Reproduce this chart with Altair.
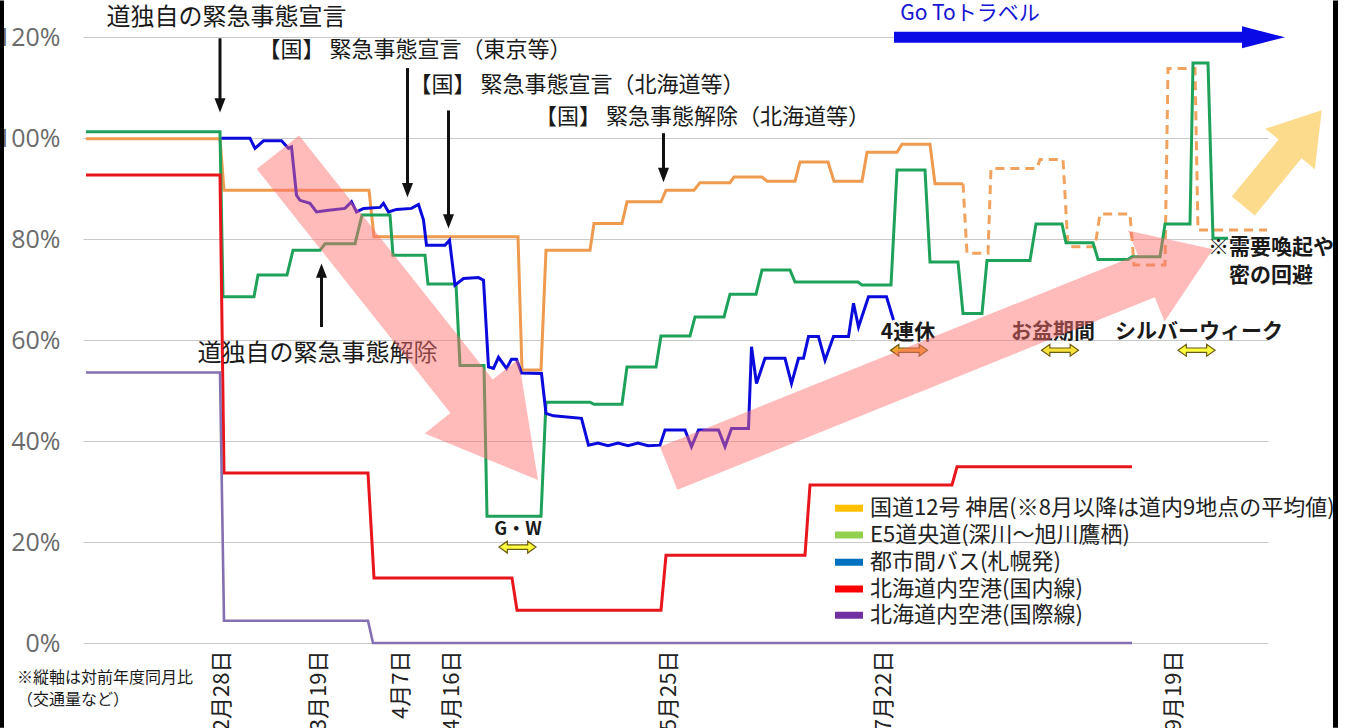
import altair as alt
import pandas as pd

FONT = "Noto Sans CJK JP"

# ---------------- axis ticks ----------------
tick_pos = [27.6, 47.1, 63.4, 73.6, 117.0, 160.1, 218.1]
tick_labels = ["2月28日", "3月19日", "4月7日", "4月16日", "5月25日", "7月22日", "9月19日"]
y_ticks = [0, 20, 40, 60, 80, 100, 120]

# ---------------- series (x = position on category axis, y = % of previous year) ----------------
orange_x = [0.6, 27.4, 28.2, 57.2, 58.2, 87.0, 87.8, 91.6, 92.6, 101.4, 102.2, 107.8, 108.8, 115.6,
            116.6, 122.2, 123.4, 129.4, 130.2, 135.8, 136.8, 142.4, 143.4, 149.0, 150.2, 155.8,
            156.8, 162.8, 163.8, 169.4, 170.4, 176.0]
orange_y = [99.9, 99.9, 89.7, 89.7, 80.5, 80.5, 54.1, 54.1, 77.8, 77.8, 83.1, 83.1, 87.4, 87.4,
            89.7, 89.7, 91.2, 91.2, 92.3, 92.3, 91.5, 91.5, 95.3, 95.3, 91.5, 91.5,
            97.2, 97.2, 98.8, 98.8, 91.0, 91.0]

orange_dash_x = [176.0, 176.8, 181.0, 181.6, 190.8, 191.4, 196.0, 197.0, 202.4, 203.4, 209.4,
                 210.2, 216.4, 217.0, 222.4, 223.0, 236.8]
orange_dash_y = [91.0, 77.2, 77.2, 94.0, 94.0, 95.8, 95.8, 78.5, 78.5, 85.0, 85.0,
                 74.9, 74.9, 113.8, 113.8, 81.8, 81.8]

green_x = [0.6, 27.4, 28.0, 34.2, 35.0, 40.8, 42.0, 47.4, 48.4, 54.4, 55.8, 61.4, 62.0, 68.4,
           69.0, 74.6, 75.4, 80.2, 80.8, 91.6, 92.6, 101.4, 102.2, 107.8, 108.8, 114.6, 115.6,
           121.4, 122.4, 128.2, 129.4, 134.6, 135.8, 141.4, 142.4, 155.0, 155.8, 161.6, 162.8,
           168.4, 169.4, 175.0, 176.0, 179.8, 180.8, 189.4, 190.6, 195.8, 196.6, 202.0, 203.0,
           209.0, 209.8, 215.4, 216.4, 221.4, 222.0, 225.0, 226.0, 229.0]
green_y = [101.3, 101.3, 68.6, 68.6, 72.9, 72.9, 77.8, 77.8, 79.1, 79.1, 84.8, 84.8, 76.8, 76.8,
           71.1, 71.1, 55.0, 55.0, 25.1, 25.1, 47.7, 47.7, 47.3, 47.3, 54.7, 54.7, 60.8,
           60.8, 64.6, 64.6, 69.1, 69.1, 73.9, 73.9, 71.5, 71.5, 70.9, 70.9, 93.7,
           93.7, 75.5, 75.5, 65.3, 65.3, 75.8, 75.8, 83.0, 83.0, 79.3, 79.3, 76.0,
           76.0, 76.5, 76.5, 83.0, 83.0, 114.9, 114.9, 80.2, 80.2]

blue_x = [27.7, 33.4, 34.4, 36.1, 39.7, 41.1, 41.7, 42.7, 43.4, 45.4, 46.7, 48.7, 52.4, 53.7,
          54.7, 56.1, 59.4, 60.1, 61.1, 62.7, 65.7, 67.1, 68.1, 68.7, 72.4, 73.3, 74.4, 76.1,
          79.1, 80.1, 81.1, 82.1, 83.1, 84.7, 85.7, 86.7, 87.7, 91.7, 92.6, 94.1, 99.7, 101.1,
          103.0, 105.0, 107.0, 109.0, 111.0, 113.0, 115.4, 116.4, 120.4, 121.7, 123.1, 127.1,
          128.4, 129.7, 133.1, 133.7, 134.7, 136.4, 140.4, 141.7, 143.1, 144.1, 145.1, 147.1,
          148.4, 150.1, 153.1, 154.1, 155.1, 157.1, 160.7, 162.1]
blue_y = [100.0, 100.0, 98.0, 99.5, 99.5, 98.0, 98.3, 88.7, 87.7, 87.1, 85.4, 85.7, 86.1, 87.4,
          85.4, 86.1, 86.3, 87.1, 85.4, 85.9, 86.1, 86.9, 83.8, 78.8, 78.8, 79.8, 70.9, 72.2,
          72.4, 71.9, 54.7, 54.4, 56.6, 54.4, 56.2, 56.2, 53.5, 53.4, 45.5, 45.0, 44.5, 39.2,
          39.6, 39.1, 39.6, 39.1, 39.6, 39.1, 39.2, 42.2, 42.2, 38.9, 42.2, 42.2,
          38.9, 42.5, 42.5, 58.7, 51.4, 56.4, 56.4, 51.4, 56.4, 56.4, 60.7, 60.7,
          56.0, 60.7, 60.7, 67.3, 62.6, 68.6, 68.6, 64.0]

red_x = [0.6, 27.4, 28.2, 57.0, 58.2, 85.8, 86.8, 115.6, 116.6, 144.4, 145.4, 173.8, 174.8, 209.8]
red_y = [92.7, 92.7, 33.7, 33.7, 12.9, 12.9, 6.5, 6.5, 17.4, 17.4, 31.3, 31.3, 34.9, 34.9]

purple_x = [0.6, 27.4, 28.2, 57.0, 58.0, 209.8]
purple_y = [53.6, 53.6, 4.4, 4.4, 0.0, 0.0]

# ---------------- legend (drawn as its own small table) ----------------
legend_labels = ["国道12号 神居(※8月以降は道内9地点の平均値)", "E5道央道(深川～旭川鷹栖)",
                 "都市間バス(札幌発)", "北海道内空港(国内線)", "北海道内空港(国際線)"]
legend_colors = ["#FFC000", "#92D050", "#0070C0", "#FF0000", "#7030A0"]
legend_row_y = [26.7, 21.4, 16.0, 10.7, 5.5]
legend_sym_x = [150.4] * 5
legend_sym_x2 = [156.0] * 5
legend_text_x = [157.4] * 5

# ---------------- annotations ----------------
ann_text = ["道独自の緊急事態宣言", "【国】 緊急事態宣言（東京等）", "【国】 緊急事態宣言（北海道等）",
            "【国】 緊急事態解除（北海道等）", "道独自の緊急事態解除"]
ann_x = [28.7, 66.4, 98.8, 123.9, 46.9]
ann_y = [123.8, 117.4, 110.5, 104.2, 57.2]
ann_fs = [24, 22, 22, 22, 24]

hol_text = ["G・W", "4連休", "お盆期間", "シルバーウィーク", "※需要喚起や", "密の回避"]
hol_x = [87.0, 165.0, 194.0, 223.2, 237.6, 237.6]
hol_y = [22.4, 61.4, 61.6, 61.6, 78.2, 72.7]
hol_fs = [18, 21, 21, 21, 21, 21]

note_text = ["※縦軸は対前年度同月比", "（交通量など）"]
note_x = [-13.2, -13.2]
note_y = [-7.0, -11.2]

darrow_x = [27.4, 64.9, 73.1, 116.1]
darrow_top = [119.8, 113.9, 105.5, 101.0]
darrow_end = [107.5, 90.7, 84.5, 93.7]
darrow_tip = [105.1, 88.3, 82.1, 91.3]
uarrow_x = [47.7]
uarrow_bottom = [62.6]
uarrow_end = [72.8]
uarrow_tip = [75.2]

harrow_x = [86.9, 165.2, 195.4, 222.7]
harrow_y = [19.0, 58.0, 58.0, 58.0]
harrow_fill = ["#FFFF40", "#F2A22C", "#F6E23A", "#FFFF40"]

goto_x = [162.2]
goto_x2 = [231.8]
goto_y = [120.0]
goto_head_x = [236.1]
goto_text_x = [177.4]
goto_text_y = [124.6]

pink_down_x = [34.76, 43.24, 81.96, 87.12, 91.0, 68.32, 73.48]
pink_down_y = [93.9, 100.55, 52.2, 56.28, 32.28, 41.5, 45.56]
pink_up_x = [115.4, 210.92, 208.98, 226.0, 216.3, 214.36, 118.88]
pink_up_y = [38.87, 76.91, 81.70, 78.02, 63.68, 68.48, 30.34]
yellow_x = [229.76, 239.12, 236.46, 247.74, 246.38, 243.72, 234.36]
yellow_y = [88.44, 99.74, 101.88, 105.54, 93.88, 96.02, 84.71]

border_x = [-16.2, 250.5]
border_top = [127.3, 127.3]
border_bottom = [-16.8, -16.8]

# ---------------- encodings ----------------
label_expr = ""
for p, l in zip(tick_pos, tick_labels):
    label_expr += f"format(datum.value, '.1f') == '{p:.1f}' ? '{l}' : "
label_expr += "''"

X = alt.X("x:Q", scale=alt.Scale(domain=[0, 237], nice=False, zero=False),
          axis=alt.Axis(values=tick_pos, labelExpr=label_expr, labelAngle=270,
                        labelAlign="right", labelBaseline="middle", labelFont=FONT,
                        labelFontSize=22, labelColor="#222222", labelPadding=7,
                        grid=False, ticks=False, domain=False, title=None,
                        labelOverlap=False, labelFlush=False))
Y = alt.Y("y:Q", scale=alt.Scale(domain=[0, 126], nice=False, zero=False),
          axis=alt.Axis(values=y_ticks, labelExpr="datum.value + '%'", grid=True,
                        gridColor="#C9C9C9", gridWidth=1.2, ticks=False, domain=False,
                        title=None, labelFont="Liberation Sans Narrow, Open Sans",
                        labelFontSize=25, labelColor="#6b6b6b", labelPadding=23,
                        labelFlush=False))


def line_layer(xs, ys, color, width=3.0, dash=None):
    df = pd.DataFrame({"x": xs, "y": ys, "i": list(range(len(xs)))})
    kw = dict(color=color, strokeWidth=width)
    if dash:
        kw["strokeDash"] = dash
    return alt.Chart(df).mark_line(**kw).encode(x=X, y=Y, order="i:Q")


def poly_layer(xs, ys, color, opacity):
    df = pd.DataFrame({"x": xs, "y": ys, "i": list(range(len(xs)))})
    return alt.Chart(df).mark_line(fill=color, fillOpacity=opacity, stroke=color,
                                   strokeWidth=0).encode(x=X, y=Y, order="i:Q")


layers = []
layers.append(line_layer(orange_x, orange_y, "#EE9B4F"))
layers.append(line_layer(orange_dash_x, orange_dash_y, "#F0A35E", dash=[9, 6]))
layers.append(line_layer(green_x, green_y, "#1EA25A"))
layers.append(line_layer(blue_x, blue_y, "#0A0ADC"))
layers.append(line_layer(red_x, red_y, "#E8161C"))
layers.append(line_layer(purple_x, purple_y, "#8470B0", width=2.6))

# legend
leg_sym = pd.DataFrame({"x": legend_sym_x, "x2": legend_sym_x2, "y": legend_row_y,
                        "c": legend_colors})
layers.append(alt.Chart(leg_sym).mark_rule(strokeWidth=7).encode(
    x=X, x2="x2:Q", y=Y, color=alt.Color("c:N", scale=None)))
leg_txt = pd.DataFrame({"x": legend_text_x, "y": legend_row_y, "t": legend_labels})
layers.append(alt.Chart(leg_txt).mark_text(font=FONT, fontSize=22, color="#222222",
                                            align="left", baseline="middle").encode(
    x=X, y=Y, text="t:N"))

# annotation texts
ann_df = pd.DataFrame({"t": ann_text, "x": ann_x, "y": ann_y, "fs": ann_fs})
layers.append(alt.Chart(ann_df).mark_text(font=FONT, color="#1a1a1a", align="center",
                                           baseline="middle").encode(
    x=X, y=Y, text="t:N", size=alt.Size("fs:Q", scale=None)))

hol_df = pd.DataFrame({"t": hol_text, "x": hol_x, "y": hol_y, "fs": hol_fs})
layers.append(alt.Chart(hol_df).mark_text(font=FONT, fontWeight="bold", color="#1a1a1a",
                                           align="center", baseline="middle").encode(
    x=X, y=Y, text="t:N", size=alt.Size("fs:Q", scale=None)))

note_df = pd.DataFrame({"t": note_text, "x": note_x, "y": note_y})
layers.append(alt.Chart(note_df).mark_text(font=FONT, fontSize=16, color="#1a1a1a",
                                            align="left", baseline="middle").encode(
    x=X, y=Y, text="t:N"))

goto_t_df = pd.DataFrame({"t": ["Go Toトラベル"], "x": goto_text_x, "y": goto_text_y})
layers.append(alt.Chart(goto_t_df).mark_text(font=FONT, fontSize=21, color="#1515D2",
                                              align="center", baseline="middle").encode(
    x=X, y=Y, text="t:N"))

# black event arrows
dshaft = pd.DataFrame({"x": darrow_x, "y": darrow_top, "y2": darrow_end})
layers.append(alt.Chart(dshaft).mark_rule(color="#111111", strokeWidth=3).encode(
    x=X, y=Y, y2="y2:Q"))
dhead = pd.DataFrame({"x": darrow_x, "y": darrow_tip})
layers.append(alt.Chart(dhead).mark_point(shape="M-1,-2.6L1,-2.6L0,0Z", size=121, filled=True,
                                          color="#111111", opacity=1).encode(x=X, y=Y))
ushaft = pd.DataFrame({"x": uarrow_x, "y": uarrow_bottom, "y2": uarrow_end})
layers.append(alt.Chart(ushaft).mark_rule(color="#111111", strokeWidth=3).encode(
    x=X, y=Y, y2="y2:Q"))
uhead = pd.DataFrame({"x": uarrow_x, "y": uarrow_tip})
layers.append(alt.Chart(uhead).mark_point(shape="M-1,2.6L1,2.6L0,0Z", size=121, filled=True,
                                          color="#111111", opacity=1).encode(x=X, y=Y))

# Go To arrow
goto_df = pd.DataFrame({"x": goto_x, "x2": goto_x2, "y": goto_y})
layers.append(alt.Chart(goto_df).mark_rule(color="#0A0AE6", strokeWidth=11).encode(
    x=X, x2="x2:Q", y=Y))
goto_h = pd.DataFrame({"x": goto_head_x, "y": goto_y})
layers.append(alt.Chart(goto_h).mark_point(shape="M-1,-0.51L1,0L-1,0.51Z", size=1849,
                                           filled=True, color="#0A0AE6", opacity=1).encode(x=X, y=Y))

# holiday double arrows
h_df = pd.DataFrame({"x": harrow_x, "y": harrow_y, "f": harrow_fill})
layers.append(alt.Chart(h_df).mark_point(
    shape="M-1,0L-0.55,-0.32L-0.55,-0.12L0.55,-0.12L0.55,-0.32L1,0L0.55,0.32L0.55,0.12L-0.55,0.12L-0.55,0.32Z",
    size=1369, filled=True, stroke="#6B5A10", strokeWidth=1.2, opacity=1).encode(
    x=X, y=Y, fill=alt.Fill("f:N", scale=None)))

# big trend arrows
layers.append(poly_layer(pink_down_x, pink_down_y, "#FF6E6E", 0.48))
layers.append(poly_layer(pink_up_x, pink_up_y, "#FF6E6E", 0.48))
layers.append(poly_layer(yellow_x, yellow_y, "#FDDB8C", 1.0))

# frame
b_df = pd.DataFrame({"x": border_x, "y": border_top, "y2": border_bottom, "w": [4, 5]})
layers.append(alt.Chart(b_df).mark_rule(color="#000000").encode(
    x=X, y=Y, y2="y2:Q", strokeWidth=alt.StrokeWidth("w:Q", scale=None)))

chart = alt.layer(*layers).properties(
    width=1185, height=636,
    autosize=alt.AutoSizeParams(type="none"),
    padding={"left": 83, "top": 7, "right": 79, "bottom": 85},
    background="white",
).configure_view(strokeWidth=0)

chart.save("out.html", embed_options={"renderer": "svg", "actions": False})
